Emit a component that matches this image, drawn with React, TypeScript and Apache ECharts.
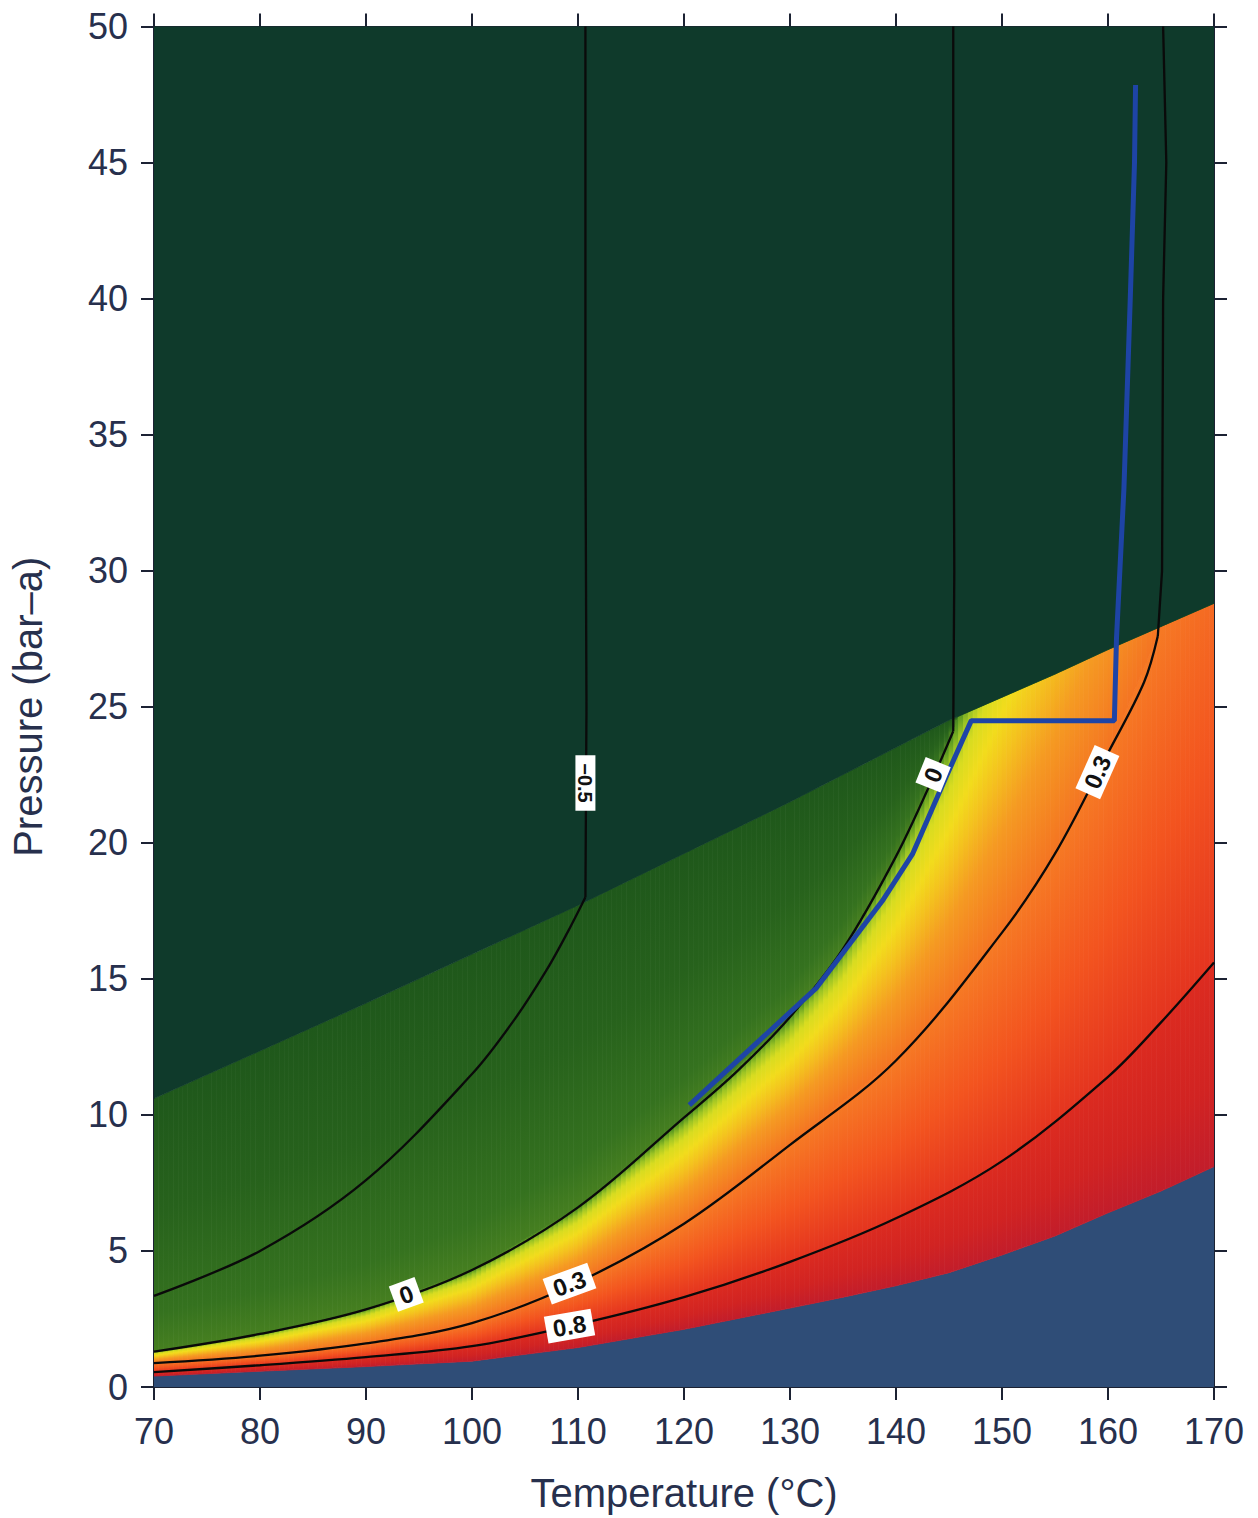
import React, { useEffect, useRef } from "react";
import * as echarts from "echarts";

// ---------- data ----------
// Temperatures (°C) at which the colour-band edges were read
const GRID_T = [70, 80, 90, 100, 110, 120, 130, 135, 140, 145, 150, 155, 160, 165, 170];
// Pressure (bar-a) of each band edge at GRID_T
const EDGE_FLOOR = [0, 0, 0, 0, 0, 0, 0, 0, 0, 0, 0, 0, 0, 0, 0];
const EDGE_BLUE = [0.4, 0.58, 0.75, 0.95, 1.45, 2.12, 2.9, 3.3, 3.72, 4.2, 4.85, 5.55, 6.4, 7.2, 8.1];
const EDGE_08 = [0.55, 0.8, 1.1, 1.5, 2.3, 3.3, 4.6, 5.4, 6.2, 7.2, 8.3, 9.7, 11.4, 13.4, 15.6];
const EDGE_03 = [0.88, 1.15, 1.6, 2.35, 3.85, 6.0, 8.9, 10.5, 12.0, 14.2, 16.7, 19.6, 23.3, 27.9, 33];
const EDGE_0 = [1.3, 1.95, 2.85, 4.3, 6.6, 9.9, 13.6, 16.1, 19.5, 23.8, 29, 34, 39, 44, 49];
const EDGE_BOUNDARY = [10.6, 12.35, 14.1, 15.9, 17.7, 19.6, 21.5, 22.5, 23.5, 24.5, 25.35, 26.2, 27.1, 27.95, 28.8];
const EDGE_TOP = [50, 50, 50, 50, 50, 50, 50, 50, 50, 50, 50, 50, 50, 50, 50];

// Contour lines [T, P]: curved part below the boundary, near-vertical part above it
const CONTOUR_M05_LOW = [[70, 3.35], [80, 5.0], [90, 7.6], [100, 11.5], [104, 13.5], [107, 15.3], [109, 16.7], [110.7, 18.0]];
const CONTOUR_M05_HIGH = [[110.7, 18.0], [110.8, 25], [110.7, 35], [110.7, 50]];
const CONTOUR_0_LOW = [[70, 1.3], [80, 1.95], [90, 2.85], [100, 4.3], [110, 6.6], [120, 9.9], [125, 11.6], [130, 13.6], [135, 16.1], [140, 19.5], [143.5, 22.4], [145.4, 24.1]];
const CONTOUR_0_HIGH = [[145.4, 24.1], [145.5, 30], [145.4, 40], [145.4, 50]];
const CONTOUR_03_LOW = [[70, 0.88], [80, 1.15], [90, 1.6], [100, 2.35], [110, 3.85], [120, 6.0], [130, 8.9], [140, 12.0], [150, 16.7], [155, 19.6], [160, 23.3], [163.4, 25.9], [164.7, 27.6]];
const CONTOUR_03_HIGH = [[164.7, 27.6], [165.1, 30], [165.2, 40], [165.5, 45], [165.2, 50]];
const CONTOUR_08 = [[70, 0.55], [80, 0.8], [90, 1.1], [100, 1.5], [110, 2.3], [120, 3.3], [130, 4.6], [140, 6.2], [150, 8.3], [160, 11.4], [165, 13.4], [170, 15.6]];

// Blue process path [T, P]
const PATH = [[120.5, 10.36], [132.5, 14.67], [138.7, 17.86], [141.55, 19.58], [144.7, 22.4], [147.1, 24.49], [160.6, 24.49], [160.8, 27.5], [161.5, 33], [162.1, 40], [162.5, 45], [162.6, 47.85]];

// Contour labels
const LABEL_TEXT = ["\u22120.5", "0", "0.3", "0.8", "0", "0.3"];
const LABEL_T = [110.7, 93.8, 109.2, 109.2, 143.5, 159.0];
const LABEL_P = [22.2, 3.4, 3.8, 2.24, 22.5, 22.6];
const LABEL_ROT = [-90, 20, 20, 10, 68, 66];

// ---------- styling ----------
const INK = "#27304d";
const FONT = "'Liberation Sans', Arial, Helvetica, sans-serif";

type Band = { lower: number[]; upper: number[]; solid?: string; stops?: [number, string][] };
const BANDS: Band[] = [
  { lower: EDGE_FLOOR, upper: EDGE_BLUE, solid: "#2f4d77" },
  { lower: EDGE_BLUE, upper: EDGE_08, stops: [[0, "#c21d2b"], [0.4, "#d12322"], [1, "#dc2b20"]] },
  { lower: EDGE_08, upper: EDGE_03, stops: [[0, "#e4341f"], [0.45, "#f3541f"], [1, "#f67a24"]] },
  {
    lower: EDGE_03,
    upper: EDGE_0,
    stops: [
      [0, "#f47422"], [0.3, "#f59a22"], [0.5, "#f4c21e"], [0.65, "#f2dc1c"],
      [0.8, "#d8dc20"], [0.9, "#9cc424"], [0.97, "#5c9a22"], [1, "#4a8a20"],
    ],
  },
  { lower: EDGE_0, upper: EDGE_BOUNDARY, stops: [[0, "#467f20"], [0.15, "#35721f"], [0.55, "#27621c"], [1, "#1f581b"]] },
  { lower: EDGE_BOUNDARY, upper: EDGE_TOP, solid: "#0f3a2b" },
];

const lerp = (a: number[], b: number[], f: number) => [a[0] + (b[0] - a[0]) * f, a[1] + (b[1] - a[1]) * f];

function renderBand(params: any, api: any) {
  const b = BANDS[params.dataIndex];
  const lo = GRID_T.map((t, i) => api.coord([t, b.lower[i]]));
  const up = GRID_T.map((t, i) => api.coord([t, b.upper[i]]));
  if (b.solid) {
    return {
      type: "polygon",
      shape: { points: [...lo, ...up.slice().reverse()] },
      style: { fill: b.solid, stroke: b.solid, lineWidth: 0.5 },
    };
  }
  const stops = (b.stops || []).map(([o, c]) => ({ offset: o, color: c }));
  const children: any[] = [];
  for (let i = 0; i < lo.length - 1; i++) {
    const L0 = lo[i], L1 = lo[i + 1], U0 = up[i], U1 = up[i + 1];
    const n = Math.max(1, Math.ceil((L1[0] - L0[0]) / 5));
    for (let k = 0; k < n; k++) {
      const fa = k / n, fb = (k + 1) / n, fm = (k + 0.5) / n;
      const a0 = lerp(L0, L1, fa), a1 = lerp(L0, L1, fb);
      const b0 = lerp(U0, U1, fa), b1 = lerp(U0, U1, fb);
      const lm = lerp(L0, L1, fm), um = lerp(U0, U1, fm);
      let y2 = um[1];
      if (Math.abs(y2 - lm[1]) < 0.5) y2 = lm[1] - 0.5;
      const grad = new echarts.graphic.LinearGradient(lm[0], lm[1], lm[0], y2, stops, true);
      children.push({
        type: "polygon",
        shape: { points: [a0, a1, b1, b0] },
        style: { fill: grad, stroke: grad, lineWidth: 0.8 },
      });
    }
  }
  return { type: "group", children };
}

function renderLabel(params: any, api: any) {
  const i = params.dataIndex;
  const p = api.coord([LABEL_T[i], LABEL_P[i]]);
  const vertical = Math.abs(LABEL_ROT[i]) === 90;
  return {
    type: "text",
    x: p[0],
    y: p[1],
    rotation: (LABEL_ROT[i] * Math.PI) / 180,
    style: {
      text: LABEL_TEXT[i],
      fontSize: vertical ? 20 : 24,
      fontWeight: "bold",
      fontFamily: FONT,
      fill: "#111111",
      backgroundColor: "#ffffff",
      padding: vertical ? [0, 8, 0, 8] : [2, 7, 1, 7],
      align: "center",
      verticalAlign: "middle",
    },
  };
}

export default function App() {
  const ref = useRef<HTMLDivElement>(null);
  useEffect(() => {
    if (!ref.current) return;
    const chart = echarts.init(ref.current, undefined, { renderer: "svg" });
    const axisLine = { show: true, onZero: false, lineStyle: { color: "#1c2233", width: 2 } };
    const axisTick = { show: true, inside: false, length: 13, lineStyle: { color: "#1c2233", width: 2 } };
    const contourStyle = { color: "#0a0a0a", width: 2.3 };
    const curved = (d: number[][]) => ({
      type: "line",
      data: d,
      showSymbol: false,
      smooth: 0.35,
      lineStyle: contourStyle,
      z: 3,
      silent: true,
    });
    const straight = (d: number[][]) => ({
      type: "line",
      data: d,
      showSymbol: false,
      lineStyle: contourStyle,
      z: 3,
      silent: true,
    });
    chart.setOption({
      animation: false,
      backgroundColor: "#ffffff",
      grid: { left: 154, right: 44, top: 26.5, bottom: 129, containLabel: false },
      xAxis: [
        {
          type: "value", min: 70, max: 170, interval: 10, position: "bottom",
          name: "Temperature (\u00b0C)", nameLocation: "middle", nameGap: 86,
          nameTextStyle: { fontSize: 40, color: INK, fontFamily: FONT },
          axisLine, axisTick,
          axisLabel: { fontSize: 36, color: INK, margin: 26, fontFamily: FONT },
          splitLine: { show: false },
        },
        {
          type: "value", min: 70, max: 170, interval: 10, position: "top",
          axisLine, axisTick, axisLabel: { show: false }, splitLine: { show: false },
        },
      ],
      yAxis: [
        {
          type: "value", min: 0, max: 50, interval: 5, position: "left",
          name: "Pressure (bar\u2013a)", nameLocation: "middle", nameGap: 106, nameRotate: 90,
          nameTextStyle: { fontSize: 40, color: INK, fontFamily: FONT },
          axisLine, axisTick,
          axisLabel: { fontSize: 36, color: INK, margin: 26, fontFamily: FONT },
          splitLine: { show: false },
        },
        {
          type: "value", min: 0, max: 50, interval: 5, position: "right",
          axisLine, axisTick, axisLabel: { show: false }, splitLine: { show: false },
        },
      ],
      series: [
        {
          type: "custom",
          renderItem: renderBand,
          data: BANDS.map((_, i) => [70, 0, i]),
          encode: { x: 0, y: 1 },
          clip: true,
          z: 1,
          silent: true,
        },
        curved(CONTOUR_M05_LOW),
        straight(CONTOUR_M05_HIGH),
        curved(CONTOUR_0_LOW),
        straight(CONTOUR_0_HIGH),
        curved(CONTOUR_03_LOW),
        straight(CONTOUR_03_HIGH),
        curved(CONTOUR_08),
        {
          type: "line",
          data: PATH,
          showSymbol: false,
          lineStyle: { color: "#1e44a6", width: 5 },
          z: 4,
          silent: true,
        },
        {
          type: "custom",
          renderItem: renderLabel,
          data: LABEL_TEXT.map((_, i) => [LABEL_T[i], LABEL_P[i]]),
          encode: { x: 0, y: 1 },
          z: 6,
          silent: true,
        },
      ],
    });
    return () => chart.dispose();
  }, []);
  return (
    <div
      ref={ref}
      style={{ position: "fixed", left: 0, top: 0, width: 1258, height: 1518, background: "#fff" }}
    />
  );
}
